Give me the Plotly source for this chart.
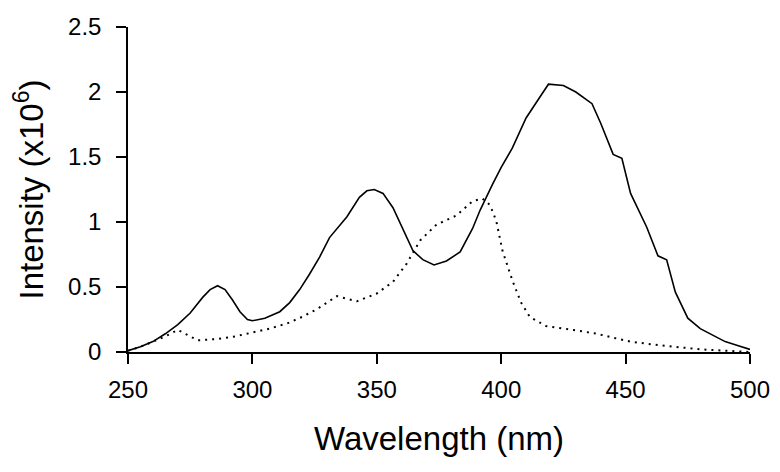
import plotly.graph_objects as go

# Solid curve
wl_solid = [250, 255, 260, 265, 270, 275, 280, 283, 286, 289, 292, 295, 298, 300, 305, 311, 315, 319, 323, 327,
            331, 335, 338, 343, 346, 349, 352.5, 356.5, 360.5, 364.5, 368.5, 373, 378, 383.5, 388.5, 391.5,
            396.5, 400, 404.5, 410, 415.5, 419, 425, 430, 436.5, 440, 445, 448.5, 452, 458.5, 463, 466.5,
            470, 472, 475, 480, 485, 490, 495, 500]
int_solid = [0.01, 0.04, 0.08, 0.14, 0.21, 0.30, 0.42, 0.48, 0.51, 0.48, 0.40, 0.31, 0.25, 0.24, 0.26, 0.31, 0.38, 0.48, 0.60, 0.73,
             0.88, 0.97, 1.04, 1.19, 1.24, 1.25, 1.22, 1.11, 0.94, 0.78, 0.71, 0.67, 0.70, 0.77, 0.95, 1.09,
             1.29, 1.42, 1.57, 1.80, 1.96, 2.06, 2.05, 2.00, 1.91, 1.76, 1.52, 1.49, 1.22, 0.96, 0.74, 0.71,
             0.46, 0.38, 0.26, 0.18, 0.13, 0.08, 0.05, 0.02]

# Dotted curve
wl_dot = [250, 255, 260, 265, 270, 274, 278, 286, 293, 300, 307, 314, 320, 326, 334, 342, 350, 356.5, 362, 367.5,
          374, 382, 388.5, 392.5, 395.5, 398, 400.5, 404.5, 408, 411.5, 418, 429, 438.5, 445, 452, 460, 469, 480, 490, 500]
int_dot = [0.01, 0.04, 0.08, 0.12, 0.17, 0.13, 0.09, 0.10, 0.12, 0.15, 0.18, 0.22, 0.27, 0.33, 0.43, 0.39, 0.45, 0.54, 0.68, 0.86,
           0.98, 1.05, 1.16, 1.18, 1.13, 1.01, 0.78, 0.55, 0.38, 0.27, 0.20, 0.17, 0.14, 0.11, 0.08, 0.06, 0.04, 0.02, 0.01, 0.0]

x_ticks = [250, 300, 350, 400, 450, 500]
y_ticks = [0, 0.5, 1, 1.5, 2, 2.5]
y_tick_labels = ["0", "0.5", "1", "1.5", "2", "2.5"]

fig = go.Figure()
fig.add_trace(go.Scatter(x=wl_solid, y=int_solid, mode="lines",
                         line=dict(color="black", width=1.6), showlegend=False))
fig.add_trace(go.Scatter(x=wl_dot, y=int_dot, mode="lines",
                         line=dict(color="black", width=2, dash="2px,5px"), showlegend=False))

font_family = "Arial, Liberation Sans, sans-serif"
fig.update_layout(
    width=772, height=464,
    margin=dict(l=120, r=30, t=19, b=120, autoexpand=False),
    plot_bgcolor="white", paper_bgcolor="white",
    font=dict(family=font_family, color="black", size=24),
)
fig.update_xaxes(
    range=[250, 500], tickvals=x_ticks, ticks="outside", ticklen=10, tickwidth=1.5,
    tickcolor="black", showline=True, linecolor="black", linewidth=1.5,
    showgrid=False, zeroline=False, ticklabelstandoff=5,
    tickfont=dict(size=24),
    title=dict(text="Wavelength (nm)", font=dict(size=33), standoff=25),
)
fig.update_yaxes(
    range=[0, 2.5], tickvals=y_ticks, ticktext=y_tick_labels, ticks="outside", ticklen=10,
    tickwidth=1.5, tickcolor="black", showline=True, linecolor="black", linewidth=1.5,
    showgrid=False, zeroline=False, ticklabelstandoff=10,
    tickfont=dict(size=24),
    title=dict(text="Intensity (x10<sup>6</sup>)", font=dict(size=33), standoff=21),
)

fig.write_html("out.html")
